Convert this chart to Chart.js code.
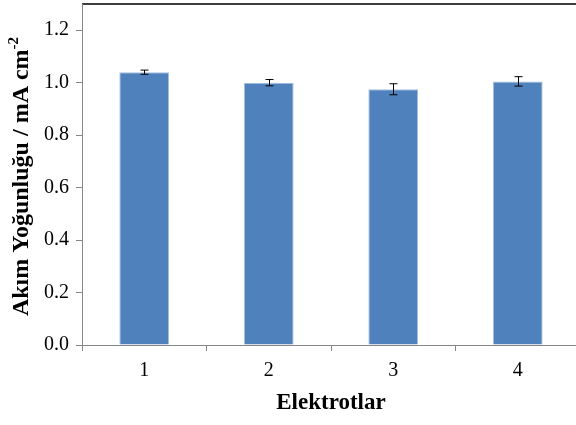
<!DOCTYPE html>
<html><head><meta charset="utf-8">
<script src="https://cdn.jsdelivr.net/npm/chart.js@4/dist/chart.umd.min.js"></script>
<style>
html,body{margin:0;padding:0;overflow:hidden;background:#fff;width:576px;height:425px}
#wrap{width:580px;height:425px;position:relative}
canvas{display:block}
</style></head>
<body><div id="wrap"><canvas id="c" width="580" height="425" style="width:580px;height:425px"></canvas></div>
<script>
const categories = ['1', '2', '3', '4'];
const values = [1.04, 1.00, 0.975, 1.005];
const errors = [0.008, 0.012, 0.021, 0.018];
const yTicks = [0, 0.2, 0.4, 0.6, 0.8, 1.0, 1.2];
const xTitle = 'Elektrotlar';
const yTitle = 'Akım Yoğunluğu / mA cm';
const yTitleSup = '-2';

const SERIF = '"Liberation Serif", "Times New Roman", Times, serif';

const frame = {
  id: 'frame',
  beforeDraw(chart) {
    const {ctx, chartArea} = chart;
    ctx.save();
    ctx.strokeStyle = '#000';
    ctx.lineWidth = 1.5;
    ctx.beginPath();
    ctx.moveTo(chartArea.left, chartArea.top);
    ctx.lineTo(chartArea.right, chartArea.top);
    ctx.lineTo(chartArea.right, chartArea.bottom);
    ctx.stroke();
    ctx.restore();
  }
};

const errorBars = {
  id: 'errorBars',
  afterDatasetsDraw(chart) {
    const {ctx} = chart;
    const ys = chart.scales.y;
    const meta = chart.getDatasetMeta(0);
    ctx.save();
    ctx.strokeStyle = '#000';
    ctx.lineWidth = 1;
    meta.data.forEach((bar, i) => {
      const x = Math.round(bar.x) + 0.5;
      const t = ys.getPixelForValue(values[i] + errors[i]);
      const b = ys.getPixelForValue(values[i] - errors[i]);
      ctx.beginPath();
      ctx.moveTo(x, t); ctx.lineTo(x, b);
      ctx.moveTo(x - 4, t); ctx.lineTo(x + 4, t);
      ctx.moveTo(x - 4, b); ctx.lineTo(x + 4, b);
      ctx.stroke();
    });
    ctx.restore();
  }
};

const yTitlePlugin = {
  id: 'yTitlePlugin',
  afterDraw(chart) {
    const {ctx, chartArea} = chart;
    ctx.save();
    const mainFont = 'bold 24px ' + SERIF;
    const supFont = 'bold 15px ' + SERIF;
    ctx.font = mainFont;
    const w1 = ctx.measureText(yTitle).width;
    ctx.font = supFont;
    const w2 = ctx.measureText(yTitleSup).width;
    const total = w1 + w2;
    const cy = (chartArea.top + chartArea.bottom) / 2 + 2;
    ctx.translate(28, cy);
    ctx.rotate(-Math.PI / 2);
    ctx.fillStyle = '#000';
    ctx.textBaseline = 'alphabetic';
    ctx.textAlign = 'left';
    ctx.font = mainFont;
    ctx.fillText(yTitle, -total / 2, 0);
    ctx.font = supFont;
    ctx.fillText(yTitleSup, -total / 2 + w1, -10);
    ctx.restore();
  }
};

new Chart(document.getElementById('c'), {
  type: 'bar',
  data: {
    labels: categories,
    datasets: [{
      data: values,
      backgroundColor: '#4F81BD',
      borderColor: '#A7BFDF',
      borderWidth: 1,
      categoryPercentage: 1.0,
      barPercentage: 0.4
    }]
  },
  options: {
    responsive: false,
    animation: false,
    devicePixelRatio: 1,
    layout: {padding: {top: 4, left: 0, right: 0, bottom: 0}},
    plugins: {legend: {display: false}, tooltip: {enabled: false}},
    scales: {
      x: {
        type: 'category',
        offset: true,
        grid: {offset: true, drawOnChartArea: false, drawTicks: true, tickLength: 6, color: '#868686', tickColor: '#868686'},
        border: {color: '#868686', width: 1},
        ticks: {color: '#000', font: {family: SERIF, size: 20}, padding: 8},
        title: {display: true, text: xTitle, color: '#000', font: {family: SERIF, size: 23, weight: 'bold'}, padding: {top: 0, bottom: 8}},
        afterFit(scale) { scale.height = 80; scale.paddingLeft = 0; scale.paddingRight = 0; }
      },
      y: {
        min: 0,
        max: 1.3,
        grid: {drawOnChartArea: false, drawTicks: true, tickLength: 6, color: '#868686', tickColor: '#868686'},
        border: {color: '#868686', width: 1},
        ticks: {color: '#000', font: {family: SERIF, size: 20}, padding: 7, callback: v => Number(v).toFixed(1)},
        afterBuildTicks(scale) { scale.ticks = yTicks.map(v => ({value: v})); },
        afterFit(scale) { scale.width = 82; scale.paddingTop = 0; scale.paddingBottom = 0; }
      }
    }
  },
  plugins: [frame, errorBars, yTitlePlugin]
});
</script>
</body></html>
